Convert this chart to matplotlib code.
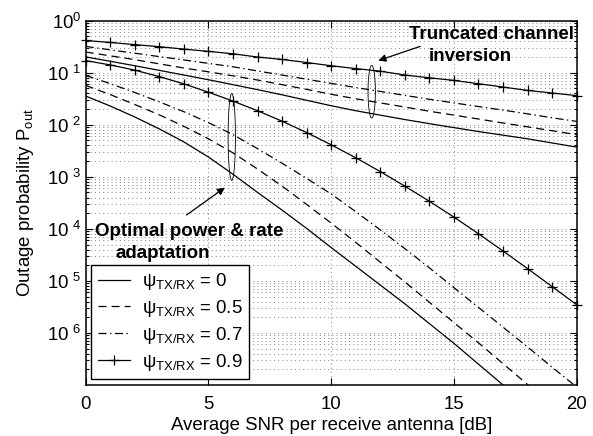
import numpy as np
import matplotlib
matplotlib.use("Agg")
import matplotlib.pyplot as plt
from matplotlib.ticker import FixedLocator, LogLocator, NullFormatter

plt.rcParams["font.family"] = ["Liberation Sans", "DejaVu Sans"]
plt.rcParams["mathtext.fontset"] = "custom"
plt.rcParams["mathtext.rm"] = "Liberation Sans"
plt.rcParams["mathtext.it"] = "Liberation Sans:italic"
plt.rcParams["mathtext.bf"] = "Liberation Sans:bold"
plt.rcParams["lines.scale_dashes"] = False

# average SNR per receive antenna [dB]
snr_db = list(range(0, 21))

# truncated channel inversion
tci_psi0 = [0.201, 0.166, 0.136, 0.111, 0.0902, 0.0733, 0.0589, 0.0473, 0.0376, 0.0295, 0.0232,
            0.0186, 0.0153, 0.0126, 0.0105, 0.00881, 0.00741, 0.00631, 0.00537, 0.00447, 0.00372]
tci_psi05 = [0.250, 0.211, 0.178, 0.148, 0.123, 0.104, 0.0871, 0.0724, 0.0589, 0.0479, 0.0385,
             0.0316, 0.0263, 0.0219, 0.0182, 0.0153, 0.0129, 0.0108, 0.00912, 0.00767, 0.00646]
tci_psi07 = [0.320, 0.275, 0.237, 0.204, 0.176, 0.151, 0.130, 0.108, 0.0902, 0.0750, 0.0624,
             0.0519, 0.0437, 0.0367, 0.0309, 0.0263, 0.0224, 0.0191, 0.0162, 0.0136, 0.0116]
tci_psi09 = [0.416, 0.381, 0.347, 0.316, 0.284, 0.257, 0.231, 0.200, 0.180, 0.157, 0.136,
             0.120, 0.107, 0.0902, 0.0798, 0.0711, 0.0614, 0.0530, 0.0457, 0.0407, 0.0363]

# optimal power & rate adaptation
opt_psi0 = [3.56e-2, 2.29e-2, 1.41e-2, 8.32e-3, 4.68e-3, 2.40e-3, 1.12e-3, 5.01e-4, 2.29e-4, 1.02e-4, 4.37e-5,
            1.91e-5, 8.32e-6, 3.63e-6, 1.51e-6, 6.31e-7, 2.51e-7, 1.00e-7, 3.98e-8, 1.58e-8, 6.31e-9]
opt_psi05 = [5.70e-2, 3.80e-2, 2.45e-2, 1.55e-2, 9.33e-3, 5.37e-3, 2.88e-3, 1.41e-3, 6.61e-4, 2.95e-4, 1.29e-4,
             5.50e-5, 2.29e-5, 9.55e-6, 3.89e-6, 1.58e-6, 6.46e-7, 2.57e-7, 1.02e-7, 4.07e-8, 1.62e-8]
opt_psi07 = [8.85e-2, 6.17e-2, 4.17e-2, 2.75e-2, 1.78e-2, 1.10e-2, 6.46e-3, 3.47e-3, 1.82e-3, 9.33e-4, 4.68e-4,
             2.14e-4, 9.55e-5, 4.17e-5, 1.78e-5, 7.41e-6, 3.09e-6, 1.29e-6, 5.37e-7, 2.19e-7, 9.12e-8]
opt_psi09 = [1.71e-1, 1.41e-1, 1.12e-1, 8.41e-2, 6.10e-2, 4.22e-2, 2.85e-2, 1.86e-2, 1.17e-2, 7.08e-3, 4.12e-3,
             2.32e-3, 1.26e-3, 6.61e-4, 3.39e-4, 1.68e-4, 8.04e-5, 3.76e-5, 1.72e-5, 7.76e-6, 3.48e-6]

legend_labels = [r"$\mathrm{ψ}_{\mathrm{TX/RX}}$ = 0", r"$\mathrm{ψ}_{\mathrm{TX/RX}}$ = 0.5",
                 r"$\mathrm{ψ}_{\mathrm{TX/RX}}$ = 0.7", r"$\mathrm{ψ}_{\mathrm{TX/RX}}$ = 0.9"]
ytick_vals = [1e0, 1e-1, 1e-2, 1e-3, 1e-4, 1e-5, 1e-6]
ytick_labels = [r"$10^{0}$", r"$10^{\;\,1}$", r"$10^{\;\,2}$", r"$10^{\;\,3}$",
                r"$10^{\;\,4}$", r"$10^{\;\,5}$", r"$10^{\;\,6}$"]

fig = plt.figure(figsize=(5.93, 4.36), dpi=100)
ax = fig.add_axes([0.1445, 0.117, 0.828, 0.8356])

lw = 0.9
styles = [
    dict(linestyle="-"),
    dict(linestyle=(0, (5.8, 3.6))),
    dict(linestyle=(0, (5.8, 2.5, 1.0, 2.5))),
    dict(linestyle="-", marker="+", markersize=7, markeredgewidth=0.9, clip_on=False),
]

for data, st in zip([opt_psi0, opt_psi05, opt_psi07, opt_psi09], styles):
    ax.plot(snr_db, data, color="k", lw=lw, **st)
handles = []
for data, st, lab in zip([tci_psi0, tci_psi05, tci_psi07, tci_psi09], styles, legend_labels):
    h, = ax.plot(snr_db, data, color="k", lw=lw, label=lab, **st)
    handles.append(h)

ax.set_yscale("log")
ax.set_xlim(0, 20)
ax.set_ylim(1e-7, 1)
ax.set_xticks([0, 5, 10, 15, 20])
ax.yaxis.set_major_locator(FixedLocator(ytick_vals))
ax.set_yticklabels(ytick_labels)
ax.yaxis.set_minor_locator(LogLocator(base=10, subs=np.arange(2, 10), numticks=20))
ax.yaxis.set_minor_formatter(NullFormatter())

ax.tick_params(axis="both", which="both", direction="in", top=True, right=True,
               labelsize=13.4, width=0.8)
ax.tick_params(axis="both", which="major", length=5)
ax.tick_params(axis="y", which="minor", length=2.5)
ax.tick_params(axis="x", pad=8)
ax.tick_params(axis="y", pad=3)
for sp in ax.spines.values():
    sp.set_linewidth(1.1)

grid_kw = dict(color="0.4", linestyle=(0, (0.8, 2.2)), linewidth=0.5)
ax.grid(True, which="major", axis="both", **grid_kw)
ax.grid(True, which="minor", axis="y", **grid_kw)
ax.set_axisbelow(True)

ax.set_xlabel("Average SNR per receive antenna [dB]", fontsize=13.4, labelpad=3)
ax.set_ylabel(r"Outage probability P$_{\mathrm{out}}$", fontsize=13.4, labelpad=8)

# ellipses grouping the curve families
t = np.linspace(0, 2 * np.pi, 200)
for xc, lo, hi, a in [(11.65, -0.86, -1.87, 0.15), (5.95, -1.40, -3.07, 0.15)]:
    lc, b = (lo + hi) / 2, (lo - hi) / 2
    ax.plot(xc + a * np.cos(t), 10.0 ** (lc + b * np.sin(t)), color="k", lw=0.6)

arrow = dict(arrowstyle="-|>", color="k", lw=0.9, mutation_scale=11, shrinkA=0, shrinkB=0)
ax.annotate("", xy=(11.92, 0.171), xytext=(13.62, 0.32), arrowprops=arrow)
ax.annotate("", xy=(5.67, 6.2e-4), xytext=(4.11, 1.85e-4), arrowprops=arrow)

bold = dict(fontsize=13.5, fontweight="bold", ha="center", va="center")
ax.text(16.53, 0.534, "Truncated channel", **bold)
ax.text(15.65, 0.208, "inversion", **bold)
ax.text(4.23, 8.77e-5, "Optimal power & rate", **bold)
ax.text(3.15, 3.37e-5, "adaptation", **bold)

leg = ax.legend(handles=handles, loc="lower left", fontsize=13.4, handlelength=1.75,
                fancybox=False, edgecolor="k", framealpha=1, borderaxespad=0.3,
                labelspacing=0.32, handletextpad=0.6, borderpad=0.35)
leg.get_frame().set_linewidth(1.0)

fig.savefig("out.png", dpi=100)
